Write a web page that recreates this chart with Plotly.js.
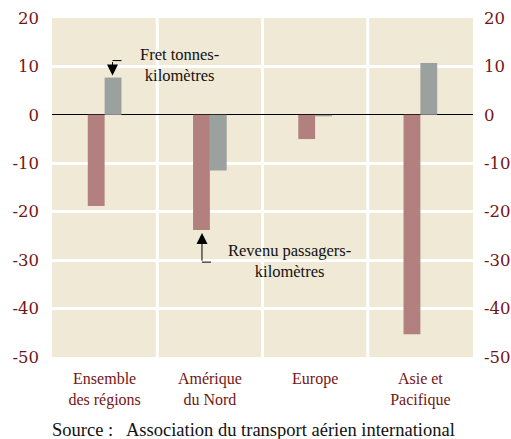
<!DOCTYPE html>
<html><head><meta charset="utf-8">
<script src="https://cdn.plot.ly/plotly-3.0.1.min.js"></script>
<style>body{margin:0;background:#fff}#g{width:511px;height:439px}</style>
</head><body><div id="g"></div>
<script>
const categories = ["Ensemble<br>des régions", "Amérique<br>du Nord", "Europe", "Asie et<br>Pacifique"];
const passagers = [-18.8, -23.8, -5.0, -45.3];
const fret = [7.7, -11.5, -0.3, 10.7];
const yTicks = [20, 10, 0, -10, -20, -30, -40, -50];

const serif = "DejaVu Serif";
const serif2 = "Liberation Serif";
const red = "#731515";
const tickFont = {family: serif, size: 16.5, color: red};

const traces = [
  {type: "bar", x: categories, y: passagers, marker: {color: "#b38080"}, name: "Revenu passagers-kilomètres", hoverinfo: "skip"},
  {type: "bar", x: categories, y: fret, marker: {color: "#9ba19f"}, name: "Fret tonnes-kilomètres", hoverinfo: "skip"},
  {type: "scatter", x: categories, y: fret, yaxis: "y2", mode: "none", showlegend: false, hoverinfo: "skip"}
];

const layout = {
  width: 511, height: 439,
  margin: {l: 52, r: 38, t: 18, b: 82},
  paper_bgcolor: "#ffffff",
  plot_bgcolor: "#efe9d6",
  font: {family: serif2},
  showlegend: false,
  barmode: "group",
  bargap: 0.68,
  bargroupgap: 0,
  xaxis: {
    type: "category", showgrid: false, ticks: "", tickfont: {family: serif2, size: 16, color: red},
    ticklabelstandoff: 10
  },
  yaxis: {
    range: [-50, 20], tickvals: yTicks, ticktext: yTicks.map(String), tickfont: tickFont,
    gridcolor: "#ffffff", gridwidth: 3, zeroline: true, zerolinecolor: "#000000", zerolinewidth: 1,
    ticks: "", ticklabelstandoff: 12
  },
  yaxis2: {
    range: [-50, 20], overlaying: "y", side: "right", tickvals: yTicks, ticktext: yTicks.map(String),
    tickfont: tickFont, showgrid: false, zeroline: false, ticks: "", ticklabelstandoff: 10
  },
  shapes: [
    {type: "line", xref: "x", yref: "y", x0: 1.5, x1: 1.5, y0: -50, y1: 20, line: {color: "#ffffff", width: 3}, layer: "below"},
    {type: "line", xref: "x", yref: "y", x0: 0.5, x1: 0.5, y0: -50, y1: 20, line: {color: "#ffffff", width: 3}, layer: "below"},
    {type: "line", xref: "x", yref: "y", x0: 2.5, x1: 2.5, y0: -50, y1: 20, line: {color: "#ffffff", width: 3}, layer: "below"},
    {type: "line", xref: "x", yref: "y", xsizemode: "pixel", xanchor: 0.075, x0: 0, x1: 9,
     ysizemode: "pixel", yanchor: fret[0], y0: 17, y1: 17, line: {color: "#000", width: 1}},
    {type: "line", xref: "x", yref: "y", xsizemode: "pixel", xanchor: 0.925, x0: 0, x1: 9,
     ysizemode: "pixel", yanchor: passagers[1], y0: -32, y1: -32, line: {color: "#000", width: 1}}
  ],
  annotations: [
    {x: 0.075, y: fret[0], xref: "x", yref: "y", ax: 0, ay: -17, axref: "pixel", ayref: "pixel",
     showarrow: true, arrowhead: 2, arrowsize: 2.2, arrowwidth: 1, arrowcolor: "#000", standoff: 2, text: ""},
    {x: 0.925, y: passagers[1], xref: "x", yref: "y", ax: 0, ay: 32, axref: "pixel", ayref: "pixel",
     showarrow: true, arrowhead: 2, arrowsize: 2.2, arrowwidth: 1, arrowcolor: "#000", standoff: 3, text: ""},
    {x: 179, y: 65, showarrow: false, text: "Fret tonnes-<br>kilomètres",
     font: {family: serif2, size: 16.5, color: "#111"}, align: "center", xanchor: "center", yanchor: "middle"},
    {x: 289, y: 261, showarrow: false, text: "Revenu passagers-<br>kilomètres",
     font: {family: serif2, size: 16.5, color: "#111"}, align: "center", xanchor: "center", yanchor: "middle"},
    {x: 50, y: 430, showarrow: false, xanchor: "left", yanchor: "middle", text: "Source :   Association du transport aérien international",
     font: {family: serif2, size: 18.5, color: "#111"}}
  ]
};
const W = 511, H = 439, m = layout.margin, pw = W - m.l - m.r, ph = H - m.t - m.b;
layout.annotations.slice(2).forEach(a => {
  a.xref = "paper"; a.yref = "paper";
  a.x = (a.x - m.l) / pw; a.y = (H - m.b - a.y) / ph;
});
Plotly.newPlot("g", traces, layout, {staticPlot: true});
</script></body></html>
